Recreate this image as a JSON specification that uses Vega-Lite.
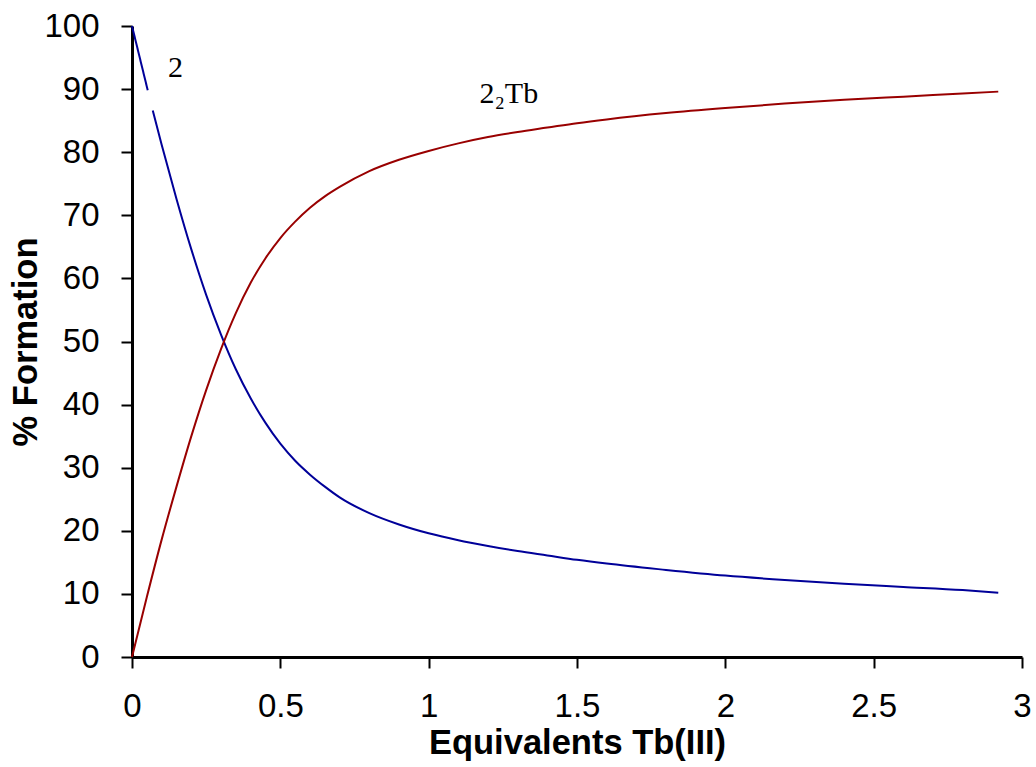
{
  "$schema": "https://vega.github.io/schema/vega-lite/v6.json",
  "width": 890,
  "height": 631,
  "autosize": "none",
  "padding": {"left": 132, "top": 26, "right": 14, "bottom": 110},
  "background": "white",
  "config": {
    "view": {"stroke": null},
    "axis": {
      "grid": false,
      "domainColor": "black",
      "domainWidth": 3,
      "tickColor": "black",
      "tickWidth": 2,
      "tickSize": 11,
      "labelFlush": false,
      "labelFont": "Liberation Sans",
      "labelFontSize": 33,
      "labelColor": "black",
      "titleFont": "Liberation Sans",
      "titleFontSize": 34.5,
      "titleFontWeight": "bold",
      "titleColor": "black"
    }
  },
  "layer": [
    {
      "data": {
        "values": [
          {"x": 0, "pct": 100, "species": "2", "seg": "a"},
          {"x": 0.053, "pct": 89.8, "species": "2", "seg": "a"},
          {"x": 0.07, "pct": 86.6, "species": "2", "seg": "b"},
          {"x": 0.1, "pct": 81.2, "species": "2", "seg": "b"},
          {"x": 0.15, "pct": 72.6, "species": "2", "seg": "b"},
          {"x": 0.2, "pct": 64.6, "species": "2", "seg": "b"},
          {"x": 0.25, "pct": 57.4, "species": "2", "seg": "b"},
          {"x": 0.3, "pct": 51.1, "species": "2", "seg": "b"},
          {"x": 0.35, "pct": 45.6, "species": "2", "seg": "b"},
          {"x": 0.4, "pct": 41.0, "species": "2", "seg": "b"},
          {"x": 0.45, "pct": 37.1, "species": "2", "seg": "b"},
          {"x": 0.5, "pct": 33.8, "species": "2", "seg": "b"},
          {"x": 0.55, "pct": 31.1, "species": "2", "seg": "b"},
          {"x": 0.6, "pct": 28.9, "species": "2", "seg": "b"},
          {"x": 0.65, "pct": 27.0, "species": "2", "seg": "b"},
          {"x": 0.7, "pct": 25.3, "species": "2", "seg": "b"},
          {"x": 0.8, "pct": 22.8, "species": "2", "seg": "b"},
          {"x": 0.9, "pct": 21.0, "species": "2", "seg": "b"},
          {"x": 1.0, "pct": 19.6, "species": "2", "seg": "b"},
          {"x": 1.1, "pct": 18.5, "species": "2", "seg": "b"},
          {"x": 1.2, "pct": 17.6, "species": "2", "seg": "b"},
          {"x": 1.3, "pct": 16.8, "species": "2", "seg": "b"},
          {"x": 1.4, "pct": 16.1, "species": "2", "seg": "b"},
          {"x": 1.5, "pct": 15.4, "species": "2", "seg": "b"},
          {"x": 1.6, "pct": 14.8, "species": "2", "seg": "b"},
          {"x": 1.8, "pct": 13.8, "species": "2", "seg": "b"},
          {"x": 2.0, "pct": 12.9, "species": "2", "seg": "b"},
          {"x": 2.2, "pct": 12.2, "species": "2", "seg": "b"},
          {"x": 2.4, "pct": 11.6, "species": "2", "seg": "b"},
          {"x": 2.6, "pct": 11.1, "species": "2", "seg": "b"},
          {"x": 2.8, "pct": 10.6, "species": "2", "seg": "b"},
          {"x": 2.92, "pct": 10.2, "species": "2", "seg": "b"},
          {"x": 0, "pct": 0, "species": "2₂Tb", "seg": "c"},
          {"x": 0.05, "pct": 9.5, "species": "2₂Tb", "seg": "c"},
          {"x": 0.1, "pct": 18.6, "species": "2₂Tb", "seg": "c"},
          {"x": 0.15, "pct": 27.0, "species": "2₂Tb", "seg": "c"},
          {"x": 0.2, "pct": 35.0, "species": "2₂Tb", "seg": "c"},
          {"x": 0.25, "pct": 42.3, "species": "2₂Tb", "seg": "c"},
          {"x": 0.3, "pct": 48.8, "species": "2₂Tb", "seg": "c"},
          {"x": 0.35, "pct": 54.5, "species": "2₂Tb", "seg": "c"},
          {"x": 0.4, "pct": 59.3, "species": "2₂Tb", "seg": "c"},
          {"x": 0.45, "pct": 63.2, "species": "2₂Tb", "seg": "c"},
          {"x": 0.5, "pct": 66.4, "species": "2₂Tb", "seg": "c"},
          {"x": 0.55, "pct": 69.0, "species": "2₂Tb", "seg": "c"},
          {"x": 0.6, "pct": 71.2, "species": "2₂Tb", "seg": "c"},
          {"x": 0.65, "pct": 73.0, "species": "2₂Tb", "seg": "c"},
          {"x": 0.7, "pct": 74.5, "species": "2₂Tb", "seg": "c"},
          {"x": 0.8, "pct": 77.0, "species": "2₂Tb", "seg": "c"},
          {"x": 0.9, "pct": 78.8, "species": "2₂Tb", "seg": "c"},
          {"x": 1.0, "pct": 80.2, "species": "2₂Tb", "seg": "c"},
          {"x": 1.1, "pct": 81.4, "species": "2₂Tb", "seg": "c"},
          {"x": 1.2, "pct": 82.4, "species": "2₂Tb", "seg": "c"},
          {"x": 1.3, "pct": 83.2, "species": "2₂Tb", "seg": "c"},
          {"x": 1.4, "pct": 83.9, "species": "2₂Tb", "seg": "c"},
          {"x": 1.5, "pct": 84.6, "species": "2₂Tb", "seg": "c"},
          {"x": 1.6, "pct": 85.2, "species": "2₂Tb", "seg": "c"},
          {"x": 1.8, "pct": 86.2, "species": "2₂Tb", "seg": "c"},
          {"x": 2.0, "pct": 87.0, "species": "2₂Tb", "seg": "c"},
          {"x": 2.2, "pct": 87.7, "species": "2₂Tb", "seg": "c"},
          {"x": 2.4, "pct": 88.3, "species": "2₂Tb", "seg": "c"},
          {"x": 2.6, "pct": 88.8, "species": "2₂Tb", "seg": "c"},
          {"x": 2.8, "pct": 89.3, "species": "2₂Tb", "seg": "c"},
          {"x": 2.92, "pct": 89.6, "species": "2₂Tb", "seg": "c"}
        ]
      },
      "mark": {"type": "line", "strokeWidth": 2, "interpolate": "monotone"},
      "encoding": {
        "x": {
          "field": "x",
          "type": "quantitative",
          "scale": {"domain": [0, 3], "nice": false, "zero": false},
          "axis": {
            "title": "Equivalents Tb(III)",
            "values": [0, 0.5, 1, 1.5, 2, 2.5, 3],
            "labelExpr": "toString(datum.value)",
            "labelPadding": 22,
            "titlePadding": 3
          }
        },
        "y": {
          "field": "pct",
          "type": "quantitative",
          "scale": {"domain": [0, 100], "nice": false},
          "axis": {
            "title": "% Formation",
            "values": [0, 10, 20, 30, 40, 50, 60, 70, 80, 90, 100],
            "labelPadding": 22,
            "titlePadding": 0
          }
        },
        "color": {
          "field": "species",
          "type": "nominal",
          "scale": {"domain": ["2", "2₂Tb"], "range": ["#000099", "#990000"]},
          "legend": null
        },
        "detail": {"field": "seg", "type": "nominal"}
      }
    },
    {
      "data": {
        "values": [
          {"x": 0.147, "pct": 93.3, "label": "2", "anchor": "center"},
          {"x": 1.171, "pct": 89.3, "label": "2₂Tb", "anchor": "left"}
        ]
      },
      "mark": {
        "type": "text",
        "font": "Liberation Serif",
        "fontSize": 30,
        "color": "black",
        "baseline": "middle",
        "align": {"expr": "datum.anchor"}
      },
      "encoding": {
        "x": {"field": "x", "type": "quantitative"},
        "y": {"field": "pct", "type": "quantitative"},
        "text": {"field": "label"}
      }
    }
  ]
}
